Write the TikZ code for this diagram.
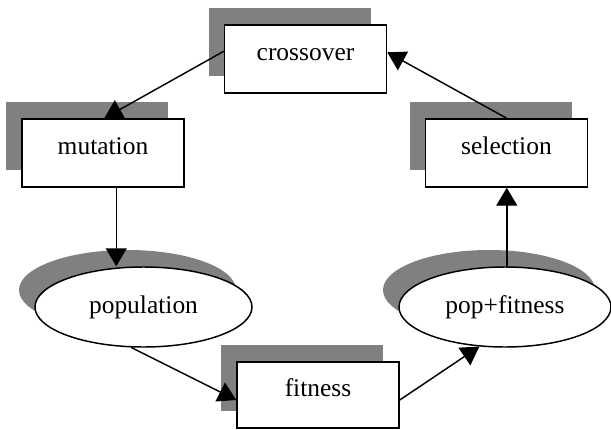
\documentclass[tikz,border=0pt]{standalone}
\usepackage{fontspec}
\setmainfont{Liberation Serif}
\usetikzlibrary{arrows.meta,shapes.geometric,shadows,calc}
\definecolor{shade}{HTML}{808080}
\tikzset{
  shd/.style={drop shadow={shadow xshift=-12pt, shadow yshift=12.75pt, fill=shade, opacity=1}},
  boxnode/.style={draw=black, line width=1.1pt, fill=white, shd, inner sep=0pt,
    minimum width=121.5pt, minimum height=51pt, text height=0.5em, text depth=0.22em,
    font=\fontsize{19.1}{22}\selectfont},
  ellnode/.style={ellipse, draw=black, line width=1.1pt, fill=white, shd, inner sep=0pt,
    minimum height=60pt, font=\fontsize{19.1}{22}\selectfont},
  arr/.style={line width=1.1pt, -{Triangle[length=13.5pt, width=15.75pt]}}
}
\begin{document}
\begin{tikzpicture}[x=0.75pt, y=-0.75pt]
\useasboundingbox (0,0) rectangle (611,429);
\node[boxnode] (cross) at (305.5,59) {crossover};
\node[boxnode] (mut) at (103,153) {mutation};
\node[boxnode] (sel) at (506.5,153) {selection};
\node[boxnode, minimum height=49.5pt] (fit) at (318,395) {fitness};
\node[ellnode, minimum width=162.75pt] (pop) at (143.5,307) {population};
\node[ellnode, minimum width=159pt] (popfit) at (505,307) {pop+fitness};
% connectors
\coordinate (c1) at ($(cross.north west)+(0,27)$);
\coordinate (m0) at ($(mut.north west)+(83,0)$);
\coordinate (m1) at ($(mut.south west)+(95,0)$);
\coordinate (f1) at ($(fit.west)+(0,5)$);
\coordinate (f2) at ($(fit.east)+(0,5)$);
\coordinate (s1) at ($(sel.south west)+(82,0)$);
\coordinate (s2) at ($(sel.north west)+(82,0)$);
\coordinate (c2) at ($(cross.north east)+(0,28)$);
\draw[arr] (c1) -- (m0);
\draw[arr] (m1) -- (m1 |- pop.north);
\draw[arr] (pop.253) -- (f1);
\draw[arr] (f2) -- (popfit.237);
\draw[arr] (s1 |- popfit.north) -- (s1);
\draw[arr] (s2) -- (c2);
\end{tikzpicture}
\end{document}
